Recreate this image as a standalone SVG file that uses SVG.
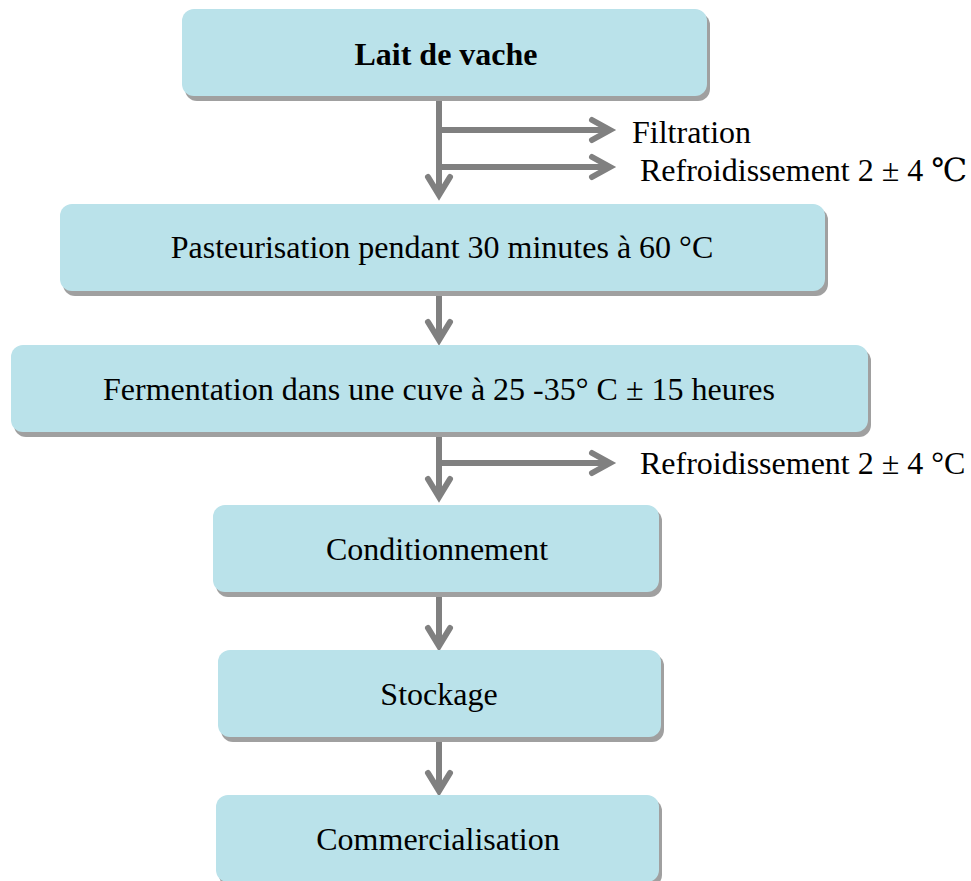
<svg xmlns="http://www.w3.org/2000/svg" width="971" height="881" viewBox="0 0 971 881">
<style>
.box{fill:#BAE2EA}
.sh{fill:#A0A0A0}
.t{font-family:"Liberation Serif","DejaVu Serif","Times New Roman",serif;font-size:32px;fill:#000}
.c{text-anchor:middle}
.ln{stroke:#808080;stroke-width:6;fill:none;stroke-linecap:butt}
.hd{stroke:#808080;stroke-width:6;fill:none;stroke-linecap:round;stroke-linejoin:miter}
</style>
<rect width="971" height="881" fill="#fff"/>
<g id="connectors">
<line class="ln" x1="439" y1="97" x2="439" y2="194"/>
<polyline class="hd" points="428,177 439,195 450,177"/>
<line class="ln" x1="439" y1="130" x2="610" y2="130"/>
<polyline class="hd" points="592,120 610,130 592,140"/>
<line class="ln" x1="439" y1="167" x2="610" y2="167"/>
<polyline class="hd" points="592,157 610,167 592,177"/>
<line class="ln" x1="439" y1="291" x2="439" y2="339"/>
<polyline class="hd" points="428,322 439,340 450,322"/>
<line class="ln" x1="439" y1="433" x2="439" y2="496"/>
<polyline class="hd" points="428,479 439,497 450,479"/>
<line class="ln" x1="439" y1="463" x2="610" y2="463"/>
<polyline class="hd" points="592,453 610,463 592,473"/>
<line class="ln" x1="439" y1="592" x2="439" y2="645"/>
<polyline class="hd" points="428,628 439,646 450,628"/>
<line class="ln" x1="439" y1="737" x2="439" y2="790"/>
<polyline class="hd" points="428,773 439,791 450,773"/>
</g>
<g id="n1">
<rect class="sh" x="185" y="13" width="525" height="88" rx="12"/>
<rect class="box" x="182" y="9" width="525" height="87" rx="12"/>
<text class="t c" x="446" y="65" font-weight="bold">Lait de vache</text>
</g>
<g id="n2">
<rect class="sh" x="63" y="208" width="765" height="88" rx="12"/>
<rect class="box" x="60" y="204" width="765" height="87" rx="12"/>
<text class="t c" x="442" y="258">Pasteurisation pendant 30 minutes à 60 °C</text>
</g>
<g id="n3">
<rect class="sh" x="14" y="349" width="857" height="88" rx="12"/>
<rect class="box" x="11" y="345" width="857" height="87" rx="12"/>
<text class="t c" x="439" y="400">Fermentation dans une cuve à 25 -35° C ± 15 heures</text>
</g>
<g id="n4">
<rect class="sh" x="216" y="509" width="446" height="88" rx="12"/>
<rect class="box" x="213" y="505" width="446" height="87" rx="12"/>
<text class="t c" x="437" y="560">Conditionnement</text>
</g>
<g id="n5">
<rect class="sh" x="221" y="654" width="443" height="88" rx="12"/>
<rect class="box" x="218" y="650" width="443" height="87" rx="12"/>
<text class="t c" x="439" y="705">Stockage</text>
</g>
<g id="n6">
<rect class="sh" x="219" y="799" width="443" height="88" rx="12"/>
<rect class="box" x="216" y="795" width="443" height="87" rx="12"/>
<text class="t c" x="438" y="850">Commercialisation</text>
</g>
<g id="labels">
<text class="t" x="632" y="143">Filtration</text>
<text class="t" x="640" y="181">Refroidissement 2 ± 4 ℃</text>
<text class="t" x="640" y="474">Refroidissement 2 ± 4 °C</text>
</g>
</svg>
